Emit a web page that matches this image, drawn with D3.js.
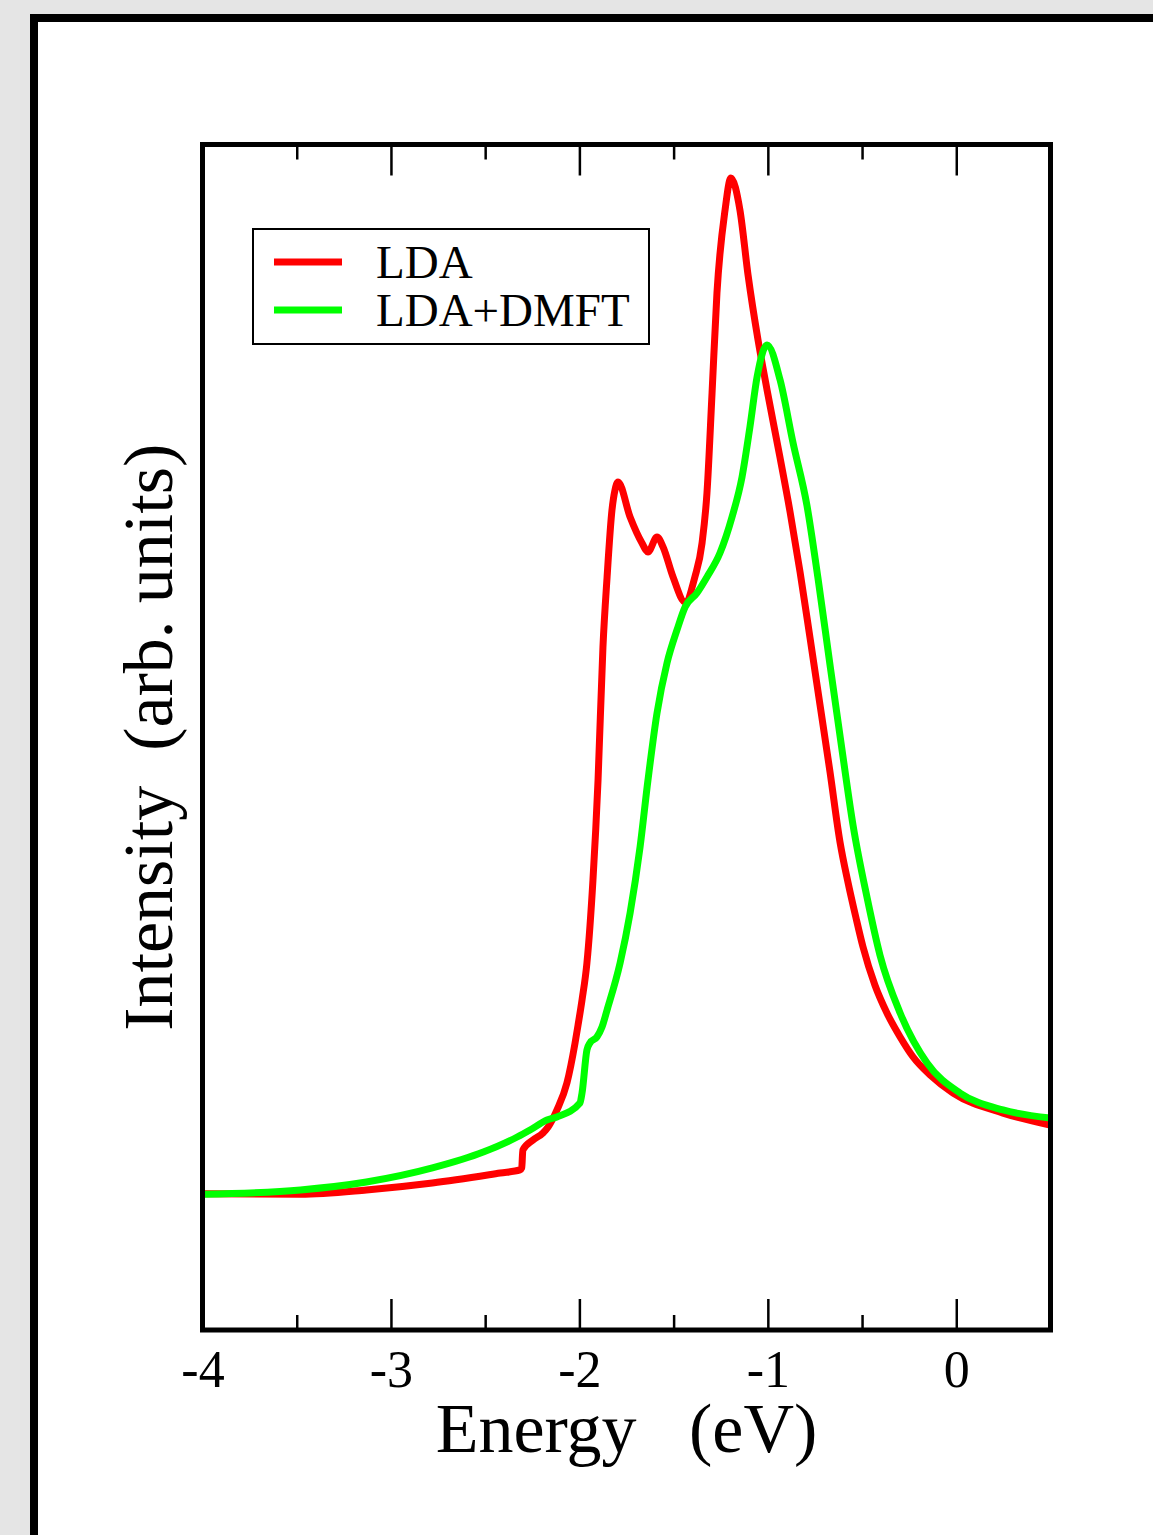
<!DOCTYPE html>
<html>
<head>
<meta charset="utf-8">
<script src="https://cdn.jsdelivr.net/npm/d3@7"></script>
<style>
  body { margin: 0; background: #e5e5e5; }
  svg text { font-family: "Liberation Serif", "DejaVu Serif", serif; fill: #000; }
</style>
</head>
<body>
<div id="visualization"></div>
<script>
// energy (eV) / intensity (arb. units)
var ldaEnergy = [-3.99, -3.48, -3.13, -2.78, -2.42, -2.315, -2.306, -2.300, -2.246, -2.193, -2.166, -2.119, -2.066,
    -2.023, -2.007, -1.986, -1.960, -1.928, -1.901, -1.875, -1.853, -1.827, -1.811, -1.795, -1.731, -1.668, -1.636,
    -1.588, -1.556, -1.503, -1.439, -1.387, -1.349, -1.323, -1.296, -1.270, -1.227, -1.196, -1.148,
    -1.105, -1.052, -1.004, -0.935, -0.882, -0.829, -0.776, -0.723, -0.670, -0.617, -0.575, -0.532, -0.495,
    -0.432, -0.368, -0.298, -0.229, -0.139, -0.017, 0.248, 0.498];
var ldaIntensity = [1.150, 1.145, 1.181, 1.240, 1.324, 1.350, 1.367, 1.518, 1.603, 1.662, 1.712, 1.856, 2.084,
    2.421, 2.573, 2.784, 3.096, 3.796, 4.639, 5.761, 6.352, 6.917, 7.086, 7.153, 6.858, 6.639, 6.563,
    6.689, 6.605, 6.352, 6.142, 6.352, 6.639, 7.060, 7.904, 8.747, 9.447, 9.717, 9.447,
    8.899, 8.351, 7.929, 7.356, 6.900, 6.394, 5.837, 5.272, 4.707, 4.116, 3.779, 3.475, 3.231,
    2.910, 2.674, 2.472, 2.303, 2.151, 1.999, 1.830, 1.729];

var dmftEnergy = [-3.99, -3.48, -3.13, -2.78, -2.51, -2.33, -2.262, -2.172, -2.119, -1.997, -1.986, -1.960,
    -1.944, -1.907, -1.880, -1.853, -1.784, -1.731, -1.678, -1.636, -1.588, -1.535, -1.482, -1.439, -1.376,
    -1.323, -1.254, -1.190, -1.137, -1.095, -1.057, -1.004, -0.935, -0.866, -0.792, -0.734, -0.670, -0.601,
    -0.548, -0.474, -0.405, -0.298, -0.155, 0.020, 0.248, 0.498];
var dmftIntensity = [1.145, 1.181, 1.248, 1.367, 1.501, 1.628, 1.687, 1.771, 1.797, 1.915, 1.999, 2.362,
    2.421, 2.472, 2.556, 2.700, 3.096, 3.517, 4.074, 4.639, 5.205, 5.626, 5.905, 6.099, 6.217,
    6.352, 6.554, 6.858, 7.195, 7.617, 8.039, 8.309, 8.014, 7.482, 6.951, 6.343, 5.609, 4.833,
    4.260, 3.652, 3.163, 2.674, 2.252, 1.999, 1.856, 1.788];

var majorTicks = [-4, -3, -2, -1, 0];
var minorTicks = [-3.5, -2.5, -1.5, -0.5];
var seriesNames = ["LDA", "LDA+DMFT"];
var seriesColors = ["#ff0000", "#00ff00"];

(function () {
    var w = 1153, h = 1535;
    var svg = d3.select("#visualization").append("svg")
        .attr("width", w)
        .attr("height", h)
        .style("display", "block");

    // page frame
    svg.append("rect")
        .attr("x", 34).attr("y", 18)
        .attr("width", 1300).attr("height", 1700)
        .style("fill", "#fff")
        .style("stroke", "#000")
        .style("stroke-width", 8);

    var pLeft = 202.5, pRight = 1050.5, pTop = 144.5, pBottom = 1330;
    var x = d3.scaleLinear().domain([-4, 0.5]).range([pLeft, pRight]);
    var y = d3.scaleLinear().domain([0, 10]).range([pBottom, pTop]);

    var line = d3.line()
        .x(function(d) { return x(d[0]); })
        .y(function(d) { return y(d[1]); })
        .curve(d3.curveMonotoneX);

    svg.append("clipPath").attr("id", "plotClip")
        .append("rect")
        .attr("x", pLeft).attr("y", pTop)
        .attr("width", pRight - pLeft).attr("height", pBottom - pTop);

    var series = [d3.zip(ldaEnergy, ldaIntensity), d3.zip(dmftEnergy, dmftIntensity)];
    var curves = svg.append("g").attr("clip-path", "url(#plotClip)");
    series.forEach(function(s, i) {
        curves.append("path")
            .attr("d", line(s))
            .style("fill", "none")
            .style("stroke", seriesColors[i])
            .style("stroke-width", 7)
            .style("stroke-linejoin", "round")
            .style("stroke-linecap", "round");
    });

    // ticks, inward on bottom and top
    function styleAxis(g) {
        g.select(".domain").remove();
        g.selectAll(".tick line").style("stroke", "#000").style("stroke-width", 2.5);
    }
    svg.append("g").attr("transform", "translate(0," + pBottom + ")")
        .call(d3.axisBottom(x).tickValues(majorTicks).tickSize(-31).tickPadding(20)
            .tickFormat(function(d) { return String(d); }))
        .call(styleAxis)
        .selectAll("text").style("font-size", "52px").style("font-family", null);
    svg.append("g").attr("transform", "translate(0," + pBottom + ")")
        .call(d3.axisBottom(x).tickValues(minorTicks).tickSize(-15).tickFormat(""))
        .call(styleAxis);
    svg.append("g").attr("transform", "translate(0," + pTop + ")")
        .call(d3.axisTop(x).tickValues(majorTicks).tickSize(-31).tickFormat(""))
        .call(styleAxis);
    svg.append("g").attr("transform", "translate(0," + pTop + ")")
        .call(d3.axisTop(x).tickValues(minorTicks).tickSize(-15).tickFormat(""))
        .call(styleAxis);

    // plot frame
    svg.append("rect")
        .attr("x", pLeft).attr("y", pTop)
        .attr("width", pRight - pLeft).attr("height", pBottom - pTop)
        .style("fill", "none")
        .style("stroke", "#000")
        .style("stroke-width", 5);

    // axis titles
    svg.append("text")
        .attr("x", (pLeft + pRight) / 2)
        .attr("y", 1452)
        .style("text-anchor", "middle")
        .style("font-size", "70px")
        .style("white-space", "pre")
        .text("Energy   (eV)");

    svg.append("text")
        .attr("transform", "translate(172," + ((pTop + pBottom) / 2) + ") rotate(-90)")
        .style("text-anchor", "middle")
        .style("font-size", "70px")
        .style("white-space", "pre")
        .text("Intensity  (arb. units)");

    // legend
    var legend = svg.append("g");
    legend.append("rect")
        .attr("x", 253).attr("y", 229)
        .attr("width", 396).attr("height", 115)
        .style("fill", "#fff")
        .style("stroke", "#000")
        .style("stroke-width", 2);
    seriesNames.forEach(function(name, i) {
        var ly = 262 + i * 48;
        legend.append("line")
            .attr("x1", 274).attr("x2", 342)
            .attr("y1", ly).attr("y2", ly)
            .style("stroke", seriesColors[i])
            .style("stroke-width", 7);
        legend.append("text")
            .attr("x", 376)
            .attr("y", ly + 16)
            .style("font-size", "47px")
            .text(name);
    });
})();
</script>
</body>
</html>
